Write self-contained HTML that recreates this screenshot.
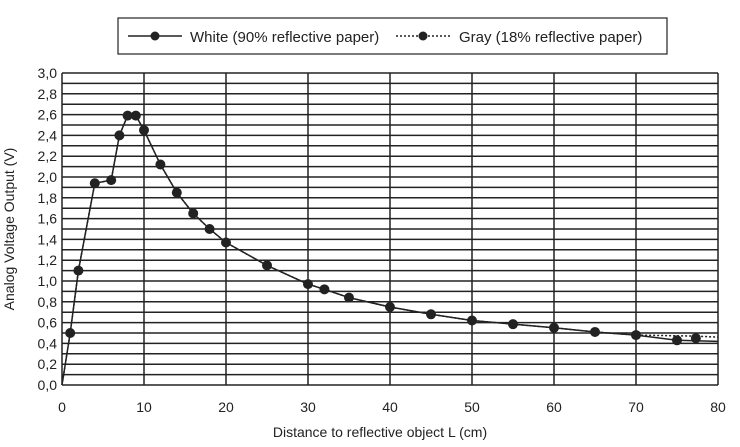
<!DOCTYPE html><html><head><style>body{margin:0;background:#fff}</style></head><body>
<svg width="740" height="442" xmlns="http://www.w3.org/2000/svg" font-family="Liberation Sans, sans-serif" fill="#222">
<rect x="118" y="18" width="549" height="36" fill="#fff" stroke="#222" stroke-width="1.2"/>
<line x1="128" y1="36" x2="182" y2="36" stroke="#222" stroke-width="1.5"/><circle cx="155" cy="36" r="4.5"/>
<text x="190" y="42" font-size="15">White (90% reflective paper)</text>
<line x1="396" y1="36" x2="450" y2="36" stroke="#222" stroke-width="1.5" stroke-dasharray="2,2"/><circle cx="423" cy="36" r="4.5"/>
<text x="459" y="42" font-size="15">Gray (18% reflective paper)</text>
<g id="g"></g>
<g font-size="14" text-anchor="end" id="yl"></g>
<g font-size="14" text-anchor="middle" id="xl"></g>
<text x="380" y="437" font-size="14" text-anchor="middle">Distance to reflective object L (cm)</text>
<text transform="translate(14,229) rotate(-90)" font-size="14" text-anchor="middle">Analog Voltage Output (V)</text>
<path id="w" fill="none" stroke="#222" stroke-width="1.5"/>
<path id="gr" fill="none" stroke="#222" stroke-width="1.5" stroke-dasharray="2,2"/>
<g id="pts"></g>
</svg>
<script>
const X=v=>62+v*8.2,Y=v=>385-v*104,ns="http://www.w3.org/2000/svg";
const g=document.getElementById('g'),yl=document.getElementById('yl'),xl=document.getElementById('xl');
function el(p,t,a,txt){const e=document.createElementNS(ns,t);for(const k in a)e.setAttribute(k,a[k]);if(txt!=null)e.textContent=txt;p.appendChild(e);return e;}
for(let i=0;i<=30;i++){el(g,'line',{x1:62,x2:718,y1:Y(i/10),y2:Y(i/10),stroke:'#222','stroke-width':1.5});
if(i%2==0)el(yl,'text',{x:57,y:Y(i/10)+5},(i/10).toFixed(1).replace('.',','));}
for(let i=0;i<=8;i++){el(g,'line',{x1:X(i*10),x2:X(i*10),y1:Y(0),y2:Y(3),stroke:'#222','stroke-width':1.5});
el(xl,'text',{x:X(i*10),y:412},i*10);}
const d=[[0,0],[1,.5],[2,1.1],[4,1.94],[6,1.97],[7,2.4],[8,2.59],[9,2.59],[10,2.45],[12,2.12],[14,1.85],[16,1.65],[18,1.5],[20,1.37],[25,1.15],[30,.97],[32,.92],[35,.84],[40,.75],[45,.68],[50,.62],[55,.585],[60,.55],[65,.51],[70,.48],[75,.43],[77.3,.45]];
const w=d.slice(0,-2).concat([[75,.43],[80,.42]]);
const gr=d.slice(0,-2).concat([[77.3,.47],[80,.46]]);
const P=a=>'M'+a.map(p=>X(p[0])+','+Y(p[1])).join('L');
document.getElementById('w').setAttribute('d',P(w));
document.getElementById('gr').setAttribute('d',P(gr));
const pts=document.getElementById('pts');
d.slice(1).forEach(p=>el(pts,'circle',{cx:X(p[0]),cy:Y(p[1]),r:5}));
</script>
</body></html>
